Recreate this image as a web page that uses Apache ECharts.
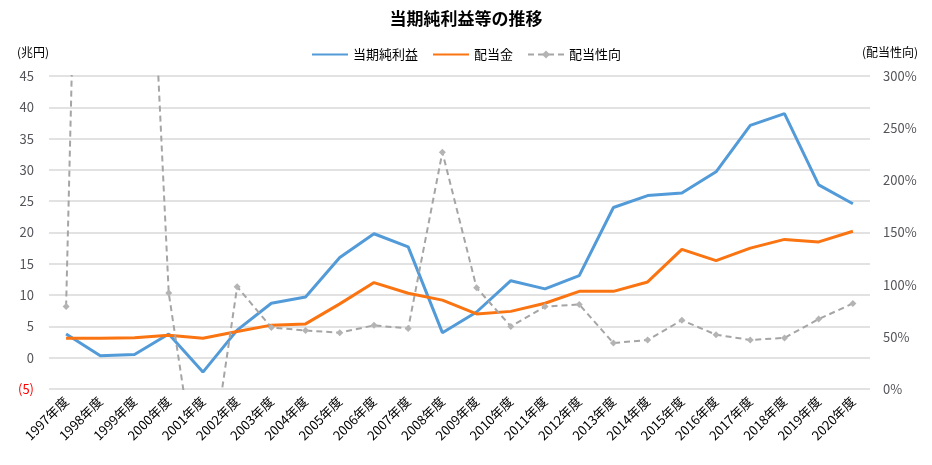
<!DOCTYPE html>
<html>
<head>
<meta charset="utf-8">
<script src="https://cdn.jsdelivr.net/npm/echarts@6/dist/echarts.min.js"></script>
<style>
  html, body { margin: 0; padding: 0; background: #fff; }
  #chart { width: 932px; height: 465px; }
</style>
</head>
<body>
<div id="chart"></div>
<script>
const years = ['1997年度', '1998年度', '1999年度', '2000年度', '2001年度', '2002年度',
  '2003年度', '2004年度', '2005年度', '2006年度', '2007年度', '2008年度', '2009年度',
  '2010年度', '2011年度', '2012年度', '2013年度', '2014年度', '2015年度', '2016年度',
  '2017年度', '2018年度', '2019年度', '2020年度'];

// 兆円
const netIncome = [3.8, 0.3, 0.5, 3.8, -2.3, 4.4, 8.7, 9.7, 16.0, 19.8, 17.7, 4.0,
  7.3, 12.3, 11.0, 13.1, 24.0, 25.9, 26.3, 29.7, 37.1, 39.0, 27.6, 24.6];
const dividends = [3.1, 3.1, 3.2, 3.6, 3.1, 4.2, 5.2, 5.4, 8.6, 12.0, 10.3, 9.2,
  7.0, 7.4, 8.7, 10.6, 10.6, 12.1, 17.3, 15.5, 17.5, 18.9, 18.5, 20.2];
// %
const payoutRatio = [79, 1430, 776, 92, -125, 98, 59, 56, 54, 61, 58, 227,
  97, 60, 79, 81, 44, 47, 66, 52, 47, 49, 67, 82];

const font = '"Noto Sans CJK JP", "Noto Sans", sans-serif';

const chart = echarts.init(document.getElementById('chart'));

chart.setOption({
  animation: false,
  textStyle: { fontFamily: font, color: '#000' },
  title: {
    text: '当期純利益等の推移',
    left: 'center',
    top: 5,
    textStyle: { fontSize: 17, fontWeight: 'bold', color: '#000', fontFamily: font }
  },
  legend: {
    top: 43,
    left: 'center',
    itemWidth: 36,
    itemHeight: 10,
    itemGap: 14,
    textStyle: { fontSize: 13, color: '#000' },
    data: [
      // plain line icons, no marker
      { name: '当期純利益', itemStyle: { opacity: 0 } },
      { name: '配当金', itemStyle: { opacity: 0 } },
      { name: '配当性向' }
    ]
  },
  grid: { left: 49, right: 62, top: 76, bottom: 76, containLabel: false },
  xAxis: {
    type: 'category',
    data: years,
    boundaryGap: true,
    axisLine: { show: false },
    axisTick: { show: false },
    axisLabel: { interval: 0, rotate: 45, fontSize: 13, margin: 10, color: '#000' }
  },
  yAxis: [
    {
      type: 'value',
      min: -5,
      max: 45,
      interval: 5,
      name: '(兆円)',
      nameGap: 18,
      nameTextStyle: { fontSize: 12, align: 'right', color: '#000' },
      axisLine: { show: false },
      axisTick: { show: false },
      axisLabel: {
        fontSize: 13,
        margin: 15,
        formatter: v => v < 0 ? '{neg|(' + Math.abs(v) + ')}' : String(v),
        rich: { neg: { color: '#ff0000', fontSize: 13 } }
      },
      splitLine: { lineStyle: { color: '#d9d9d9', width: 1.5 } }
    },
    {
      type: 'value',
      min: 0,
      max: 300,
      interval: 50,
      name: '(配当性向)',
      nameGap: 18,
      nameTextStyle: { fontSize: 12, align: 'left', padding: [0, 0, 0, -8], color: '#000' },
      axisLine: { show: false },
      axisTick: { show: false },
      axisLabel: { fontSize: 13, margin: 13, formatter: '{value}%' },
      splitLine: { show: false }
    }
  ],
  series: [
    {
      name: '当期純利益',
      type: 'line',
      data: netIncome,
      symbol: 'none',
      color: '#529bd8',
      lineStyle: { width: 3 }
    },
    {
      name: '配当金',
      type: 'line',
      data: dividends,
      symbol: 'none',
      color: '#fb7412',
      lineStyle: { width: 3 }
    },
    {
      name: '配当性向',
      type: 'line',
      yAxisIndex: 1,
      data: payoutRatio,
      symbol: 'diamond',
      symbolSize: 7,
      color: '#b4b4b4',
      lineStyle: { width: 2, type: [6, 4], color: '#a5a5a5' },
      clip: true
    }
  ]
});
</script>
</body>
</html>
